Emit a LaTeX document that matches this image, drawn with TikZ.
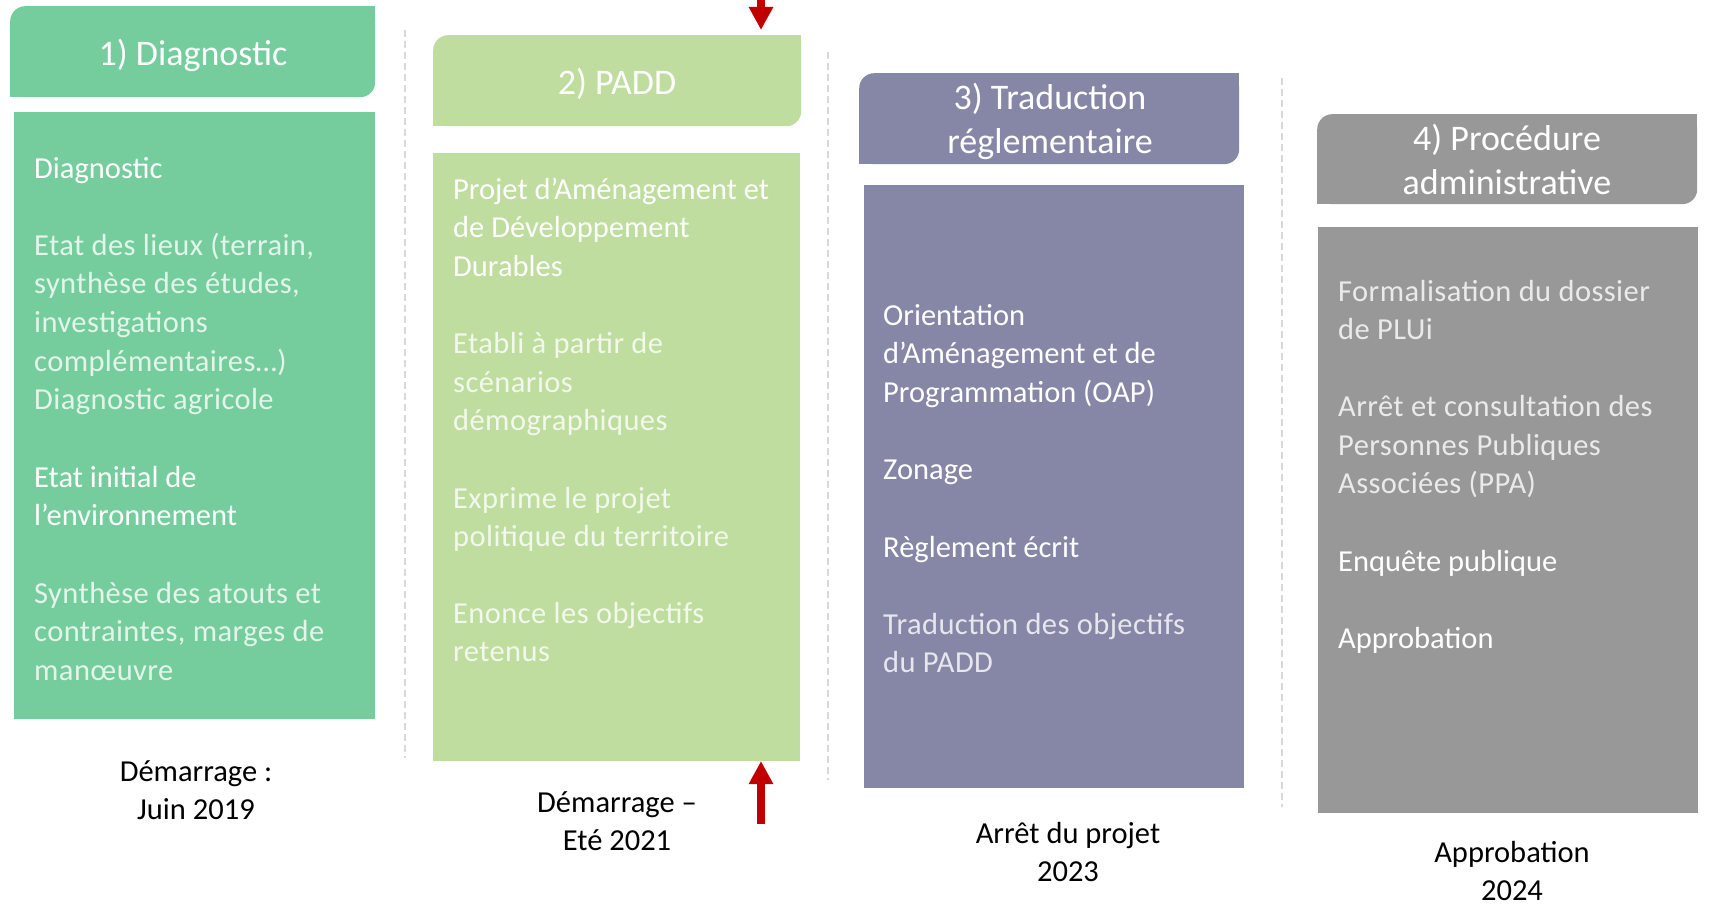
\documentclass[tikz,border=0pt]{standalone}
\usepackage{fontspec}
\setmainfont{Carlito}
\newfontfamily\litefamily[LetterSpace=1.4]{Carlito}
\usetikzlibrary{arrows.meta}
\definecolor{cA}{HTML}{75CD9D}
\definecolor{cB}{HTML}{BFDD9E}
\definecolor{cC}{HTML}{8687A7}
\definecolor{cD}{HTML}{989898}
\definecolor{arrowred}{HTML}{C00000}
\definecolor{sepgray}{HTML}{D9D9D9}
\begin{document}
\begin{tikzpicture}[x=1pt,y=-1pt,
  hdrbox/.style={inner sep=0pt, rounded corners=15pt, anchor=north west},
  bodybox/.style={inner sep=0pt, anchor=north west},
  hdrtxt/.style={inner sep=0pt, anchor=base, align=center, text=white, font=\fontsize{36}{44}\selectfont},
  bodytxt/.style={inner sep=0pt, anchor=base west, align=left, text=white, font=\fontsize{30.5}{38.65}\selectfont},
  lite/.style={bodytxt, text opacity=0.8, font=\litefamily\fontsize{30.5}{38.65}\selectfont},
  datelbl/.style={inner sep=0pt, anchor=base, align=center, text=black, font=\fontsize{30.5}{38}\selectfont},
  sepline/.style={draw=sepgray, line width=2pt, dash pattern=on 7pt off 4pt},
  redarrow/.style={draw=arrowred, line width=8pt, -{Triangle[width=23pt,length=23pt]}},
]
\useasboundingbox (0,0) rectangle (1729,907);

% separators
\coordinate (s1a) at (405,30);  \coordinate (s1b) at (405,758);
\coordinate (s2a) at (828,52);  \coordinate (s2b) at (828,780);
\coordinate (s3a) at (1282,78); \coordinate (s3b) at (1282,807);
\draw[sepline] (s1a) -- (s1b);
\draw[sepline] (s2a) -- (s2b);
\draw[sepline] (s3a) -- (s3b);

% headers
\node[hdrbox, fill=cA, minimum width=365pt, minimum height=91pt] (h1) at (10,6) {};
\node[hdrbox, fill=cB, minimum width=368pt, minimum height=91pt] (h2) at (433,35) {};
\node[hdrbox, fill=cC, minimum width=380pt, minimum height=91pt] (h3) at (859,73) {};
\node[hdrbox, fill=cD, minimum width=380pt, minimum height=90pt] (h4) at (1317,114) {};
\foreach \h/\c in {h1/cA,h2/cB,h3/cC,h4/cD}{
  \fill[\c] (\h.north east) rectangle ++(-20,20);
  \fill[\c] (\h.south west) rectangle ++(20,-20);
}

% bodies
\node[bodybox, fill=cA, minimum width=361pt, minimum height=607pt] (b1) at (14,112) {};
\node[bodybox, fill=cB, minimum width=367pt, minimum height=608pt] (b2) at (433,153) {};
\node[bodybox, fill=cC, minimum width=380pt, minimum height=603pt] (b3) at (864,185) {};
\node[bodybox, fill=cD, minimum width=380pt, minimum height=586pt] (b4) at (1318,227) {};

% titles (anchor = baseline of last line)
\node[hdrtxt] (t1) at (193,66) {1) Diagnostic};
\node[hdrtxt] (t2) at (617,94) {2) PADD};
\node[hdrtxt] (t3) at (1050,153) {3) Traduction\\réglementaire};
\node[hdrtxt] (t4) at (1507,194) {4) Procédure\\administrative};

% column 1
\node[bodytxt] (p11) at (34,178) {Diagnostic};
\node[lite] (p12) at (34,409.9) {Etat des lieux (terrain,\\synthèse des études,\\investigations\\complémentaires…)\\Diagnostic agricole};
\node[bodytxt] (p13) at (34,525.65) {Etat initial de\\l’environnement};
\node[lite] (p14) at (34,680.3) {Synthèse des atouts et\\contraintes, marges de\\manœuvre};

% column 2
\node[bodytxt] (p21) at (453,276.3) {Projet d’Aménagement et\\de Développement\\Durables};
\node[lite] (p22) at (453,430.9) {Etabli à partir de\\scénarios\\démographiques};
\node[lite] (p23) at (453,546.65) {Exprime le projet\\politique du territoire};
\node[lite] (p24) at (453,661.65) {Enonce les objectifs\\retenus};

% column 3
\node[bodytxt] (p31) at (883,402.3) {Orientation\\d’Aménagement et de\\Programmation (OAP)};
\node[bodytxt] (p32) at (883,479.6) {Zonage};
\node[bodytxt] (p33) at (883,557) {Règlement écrit};
\node[lite] (p34) at (883,672.65) {Traduction des objectifs\\du PADD};

% column 4
\node[lite] (p41) at (1338,339.65) {Formalisation du dossier\\de PLUi};
\node[lite] (p42) at (1338,493.9) {Arrêt et consultation des\\Personnes Publiques\\Associées (PPA)};
\node[bodytxt] (p43) at (1338,571) {Enquête publique};
\node[bodytxt] (p44) at (1338,648) {Approbation};

% dates
\node[datelbl] (d1) at (196,819) {Démarrage :\\Juin 2019};
\node[datelbl] (d2) at (617,850) {Démarrage –\\Eté 2021};
\node[datelbl] (d3) at (1068,881) {Arrêt du projet\\2023};
\node[datelbl] (d4) at (1512,900) {Approbation\\2024};

% red arrows
\coordinate (a1s) at (761,-2);
\coordinate (a1e) at (761,30);
\coordinate (a2s) at (761,824);
\coordinate (a2e) at (761,761);
\draw[redarrow] (a1s) -- (a1e);
\draw[redarrow] (a2s) -- (a2e);
\end{tikzpicture}
\end{document}
